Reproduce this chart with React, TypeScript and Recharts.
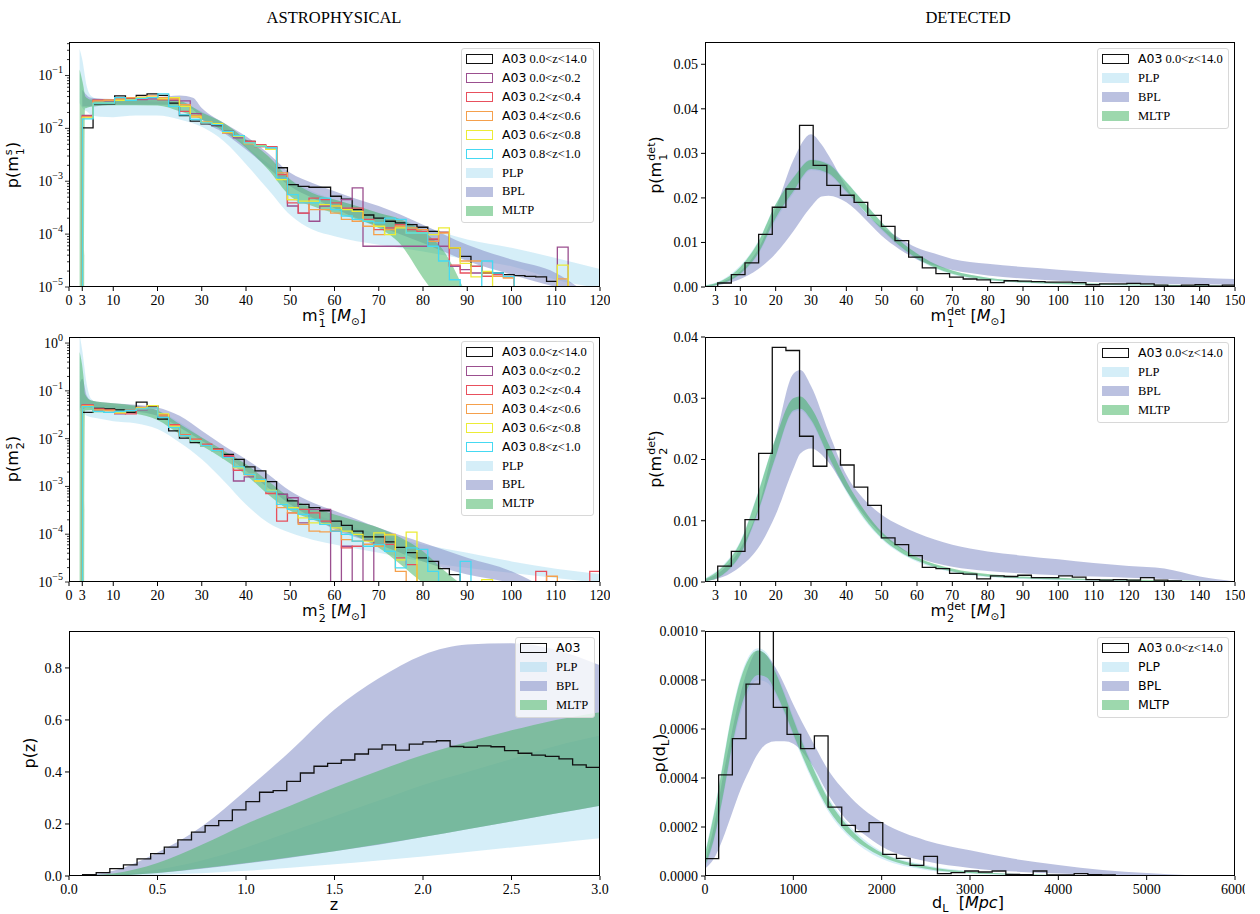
import React from "react";
import { Area, ComposedChart, Line, XAxis, YAxis } from "recharts";

const SERIF = '"Liberation Serif", "DejaVu Serif", serif';
const SANS = '"DejaVu Sans", "Liberation Sans", sans-serif';

// ---------- histogram binning ----------
const SRC_BIN_START = 3;
const SRC_BIN_WIDTH = 2.44;
const DET_BIN_START = 3.6;
const DET_BIN_WIDTH = 3.86;
const Z_BIN_START = 0;
const Z_BIN_WIDTH = 0.0769;
const DL_BIN_START = 0;
const DL_BIN_WIDTH = 154.8;
const OFF = 1e-7; // empty bin on a log axis (drawn below the frame)

const zRanges = ["0.0<z<14.0", "0.0<z<0.2", "0.2<z<0.4", "0.4<z<0.6", "0.6<z<0.8", "0.8<z<1.0"];
const histColors = ["#111111", "#9b4f8f", "#e8505d", "#f5a04c", "#ecec36", "#45d9f2"];

// ---------- m1 source frame histograms ----------
const m1SrcAll = [0.0102, 0.029, 0.029, 0.041, 0.036, 0.042, 0.045, 0.042, 0.03, 0.0175, 0.0137, 0.0122, 0.0113, 0.0088, 0.0071, 0.0057, 0.0047, 0.0045, 0.0018, 0.00086, 0.0008, 0.00077, 0.00077, 0.00052, 0.00046, 0.00029, 0.00023, 0.0002, 0.000175, 0.000163, 0.000151, 0.000135, 0.000113, 0.000108, 0.000055, 0.000038, 0.0000246, 0.0000184, 0.0000184, 0.0000171, 0.0000164, 0.0000159, 0.0000155, 0.0000128, 0.0000098];
const m1SrcZ0002 = [0.0175, 0.034, 0.033, 0.036, 0.035, 0.035, 0.036, 0.035, 0.034, 0.033, 0.019, 0.0127, 0.0118, 0.0082, 0.0066, 0.0053, 0.0045, 0.0043, 0.00116, 0.00034, 0.00025, 0.000175, 0.00034, 0.00034, 0.00045, 0.00075, 0.000059, 0.000059, 0.000059, 0.000059, 0.000059, 0.000059, 0.000079, 0.000059, 0.0000246, 0.0000213, 0.0000184, 0.0000159, 0.0000159, 0.0000155, OFF, OFF, OFF, OFF, 0.000057];
const m1SrcZ0204 = [0.017, 0.034, 0.034, 0.035, 0.036, 0.036, 0.038, 0.035, 0.036, 0.021, 0.0165, 0.0131, 0.0118, 0.0088, 0.0071, 0.0057, 0.0049, 0.0045, 0.00134, 0.00039, 0.00025, 0.00048, 0.00045, 0.00039, 0.00031, 0.00031, 0.00019, 0.000122, 0.000131, 0.000151, 0.000122, 0.000113, 0.000081, 0.000108, 0.000026, 0.0000184, 0.0000246, 0.0000159, 0.0000171, 0.0000159];
const m1SrcZ0406 = [0.0165, 0.033, 0.034, 0.036, 0.038, 0.039, 0.041, 0.038, 0.036, 0.028, 0.0175, 0.0127, 0.0123, 0.0082, 0.0071, 0.0051, 0.0045, 0.004, 0.00144, 0.00045, 0.00039, 0.00029, 0.00029, 0.00025, 0.00019, 0.000175, 0.000141, 0.000098, 0.000122, 0.000141, 0.000131, 0.000122, 0.000073, 0.000105, 0.000055, 0.000031, 0.000031, 0.0000184, 0.0000159, 0.0000148, OFF, OFF, OFF, OFF, 0.0000142];
const m1SrcZ0608 = [0.0158, 0.03, 0.03, 0.034, 0.035, 0.038, 0.039, 0.036, 0.038, 0.026, 0.0165, 0.0131, 0.0123, 0.0085, 0.0071, 0.0053, 0.0047, 0.004, 0.00108, 0.00045, 0.00042, 0.00042, 0.00036, 0.00034, 0.00029, 0.00027, 0.000175, 0.000141, 0.000098, 0.000131, 0.000105, 0.000105, 0.000098, 0.000131, 0.000055, 0.000028, 0.0000155, 0.0000198, OFF, OFF, OFF, OFF, OFF, OFF, 0.000026];
const m1SrcZ0810 = [0.0151, 0.03, 0.03, 0.038, 0.034, 0.037, 0.038, 0.045, 0.026, 0.018, 0.0147, 0.0127, 0.0118, 0.0088, 0.0073, 0.0053, 0.0046, 0.0043, 0.00116, 0.00056, 0.00039, 0.00039, 0.00048, 0.00029, 0.00022, 0.00019, 0.000175, 0.000163, 0.0002, 0.00019, 0.000105, 0.000105, 0.000059, 0.000031, 0.0000137, OFF, OFF, 0.000031, 0.0000184, 0.0000159];

// ---------- m2 source frame histograms ----------
const m2SrcAll = [0.0355, 0.043, 0.042, 0.04, 0.0355, 0.058, 0.047, 0.0257, 0.0146, 0.0103, 0.0083, 0.0071, 0.006, 0.0047, 0.0037, 0.00256, 0.00211, 0.00126, 0.00068, 0.0005, 0.00042, 0.00036, 0.00031, 0.000188, 0.000153, 0.000116, 0.000088, 0.000088, 0.000069, 0.000053, 0.000041, 0.000032, 0.000027, 0.000019, 0.0000143];
const m2SrcZ0002 = [0.051, 0.039, 0.0355, 0.033, 0.04, 0.04, 0.049, 0.03, 0.0172, 0.0115, 0.0093, 0.0071, 0.0056, 0.0042, 0.0013, 0.00158, 0.0013, 0.00078, 0.00068, 0.00058, 0.000173, 0.00033, 0.00033, OFF, 0.000056, OFF, 0.000074];
const m2SrcZ0204 = [0.051, 0.042, 0.04, 0.0355, 0.033, 0.045, 0.045, 0.0317, 0.0196, 0.0121, 0.0098, 0.0077, 0.006, 0.0044, 0.00218, 0.0018, 0.00141, 0.00071, 0.000188, 0.00028, 0.00033, 0.00028, 0.000188, 0.000116, 0.000052, 0.000056, 0.000061, 0.000061, 0.000061, 0.000032, 0.000023, OFF, OFF, OFF, OFF, OFF, OFF, OFF, OFF, OFF, OFF, OFF, 0.0000167, OFF, OFF, OFF, OFF, 0.0000167];
const m2SrcZ0406 = [0.049, 0.04, 0.039, 0.034, 0.039, 0.042, 0.044, 0.03, 0.0186, 0.0119, 0.0093, 0.0071, 0.0057, 0.004, 0.00248, 0.00174, 0.0013, 0.00078, 0.00036, 0.00028, 0.00016, 0.000116, 0.000112, 0.00012, 0.000077, 0.000072, 0.000061, 0.000056, 0.000099, 0.0000167, OFF, OFF, OFF, OFF, OFF, OFF, OFF, OFF, OFF, OFF, OFF, OFF, OFF, 0.0000132];
const m2SrcZ0608 = [0.047, 0.037, 0.0355, 0.0355, 0.039, 0.044, 0.049, 0.033, 0.0178, 0.0115, 0.009, 0.0071, 0.0056, 0.004, 0.00248, 0.0018, 0.0013, 0.00083, 0.00042, 0.00036, 0.00022, 0.000173, 0.000165, 0.000136, 0.000116, 0.000099, 0.000072, 0.000107, 0.000097, 0.000029, 0.000111, OFF, OFF, OFF, OFF, OFF, OFF, 0.0000112];
const m2SrcZ0810 = [0.047, 0.037, 0.0355, 0.037, 0.039, 0.042, 0.044, 0.0279, 0.0172, 0.0115, 0.009, 0.0071, 0.0056, 0.004, 0.00256, 0.0018, 0.00141, 0.0008, 0.00042, 0.00033, 0.00026, 0.000204, 0.00016, 0.000116, 0.000099, 0.000072, 0.000056, 0.000061, 0.000044, 0.0000197, 0.000052, 0.000048, 0.0000167, OFF, OFF, 0.000027];

// ---------- detector frame / z / dL histograms ----------
const m1DetAll = [0.0009, 0.0028, 0.0054, 0.0118, 0.0179, 0.022, 0.0363, 0.0273, 0.0228, 0.0206, 0.019, 0.0161, 0.0136, 0.0104, 0.0067, 0.0043, 0.003, 0.0022, 0.0018, 0.0016, 0.001, 0.0014, 0.0013, 0.0012, 0.0011, 0.0011, 0.001, 0.0005, 0.0007, 0.0007, 0.0008, 0.0007, 0.0004, 0.0002, 0.0004, 0.0005, 0.0002, 0.0004];
const m2DetAll = [0.0026, 0.005, 0.0102, 0.021, 0.0383, 0.0378, 0.0238, 0.0189, 0.0216, 0.0191, 0.0155, 0.0125, 0.0072, 0.0061, 0.0043, 0.0024, 0.0022, 0.0014, 0.0013, 0.0005, 0.001, 0.0009, 0.0011, 0.0007, 0.0007, 0.001, 0.0008, 0.0004, 0.0003, 0.0004, 0.0003, 0.0007, 0.0003, 0.0002];
const zAll = [0.001, 0.005, 0.013, 0.028, 0.043, 0.066, 0.086, 0.111, 0.139, 0.169, 0.194, 0.213, 0.254, 0.286, 0.322, 0.328, 0.364, 0.396, 0.422, 0.433, 0.446, 0.469, 0.488, 0.504, 0.484, 0.507, 0.516, 0.52, 0.498, 0.495, 0.5, 0.497, 0.482, 0.472, 0.465, 0.46, 0.45, 0.427, 0.418];
const dlAll = [0.0000708, 0.000413, 0.000561, 0.000783, 0.001, 0.000688, 0.000578, 0.00052, 0.000572, 0.000281, 0.000207, 0.000181, 0.000218, 0.0000886, 0.0000722, 0.0000436, 0.0000804, 0.0000095, 0.0000136, 0.0000204, 0.0000163, 0.0000204, 0.0000068, 0.0000054, 0.0000204, 0.0000041, 0.0000041, 0.0000095, 0.0000054, 0.0000041];

// ---------- model bands: m1 source ----------
const plpM1X = [2.4, 3, 4, 5, 7, 10, 15, 20, 25, 30, 35, 40, 45, 50, 55, 60, 65, 70, 80, 90, 100, 110, 120];
const plpM1Lo = [0.03, 0.0244, 0.021, 0.018, 0.0165, 0.0163, 0.0175, 0.0175, 0.0147, 0.0107, 0.0057, 0.0021, 0.0007, 0.00023, 0.000122, 0.000091, 0.000073, 0.000063, 0.000047, 0.000033, 0.0000246, 0.0000137, 0.0000095];
const plpM1Hi = [0.32, 0.2, 0.063, 0.041, 0.035, 0.034, 0.033, 0.032, 0.03, 0.021, 0.0118, 0.0046, 0.0022, 0.00108, 0.00065, 0.00045, 0.00034, 0.00025, 0.000141, 0.000079, 0.000055, 0.0000354, 0.0000219];
const bplM1X = [3, 5, 10, 20, 25, 28, 30, 35, 40, 45, 50, 55, 60, 65, 70, 80, 90, 100, 110, 115];
const bplM1Lo = [0.026, 0.026, 0.028, 0.028, 0.028, 0.0227, 0.0147, 0.0082, 0.004, 0.0018, 0.0008, 0.00048, 0.00031, 0.0002, 0.000141, 0.000068, 0.000031, 0.0000171, 0.00001, 0.0000077];
const bplM1Hi = [0.054, 0.038, 0.036, 0.039, 0.042, 0.038, 0.0244, 0.0127, 0.0071, 0.0034, 0.00144, 0.00093, 0.00065, 0.00046, 0.00034, 0.000151, 0.000063, 0.000033, 0.0000184, 0.00001];
const mltpM1X = [2.4, 3.3, 3.6, 4, 5, 10, 20, 25, 30, 35, 40, 45, 50, 55, 60, 65, 70, 75, 80, 85, 89];
const mltpM1Lo = [OFF, OFF, 0.024, 0.0244, 0.026, 0.0275, 0.027, 0.021, 0.0147, 0.0088, 0.0043, 0.00166, 0.00052, 0.00034, 0.00025, 0.00019, 0.000131, 0.000063, 0.0000148, 0.0000043, 0.0000021];
const mltpM1Hi = [0.13, 0.06, 0.042, 0.038, 0.035, 0.035, 0.035, 0.033, 0.02, 0.0127, 0.0062, 0.003, 0.00108, 0.0006, 0.00045, 0.00034, 0.00025, 0.00019, 0.000113, 0.000044, 0.00001];

// ---------- model bands: m2 source ----------
const plpM2X = [2.4, 3, 4, 5, 7, 10, 15, 20, 25, 30, 35, 40, 45, 50, 55, 60, 70, 80, 90, 100, 110, 120];
const plpM2Lo = [0.039, 0.0355, 0.03, 0.028, 0.026, 0.023, 0.021, 0.0159, 0.0083, 0.0037, 0.0013, 0.00042, 0.000173, 0.000107, 0.000077, 0.000061, 0.000041, 0.000027, 0.0000197, 0.0000155, 0.0000121, 0.0000095];
const plpM2Hi = [1.5, 0.7, 0.14, 0.068, 0.053, 0.049, 0.047, 0.039, 0.022, 0.0106, 0.0047, 0.0021, 0.00102, 0.0005, 0.00028, 0.000188, 0.000099, 0.000061, 0.000041, 0.000027, 0.000019, 0.0000147];
const bplM2X = [2.5, 3, 4, 5, 10, 15, 20, 25, 30, 35, 40, 45, 50, 55, 60, 70, 80, 90, 100, 105];
const bplM2Lo = [0.045, 0.042, 0.045, 0.044, 0.04, 0.037, 0.03, 0.0172, 0.009, 0.0047, 0.0021, 0.00094, 0.00042, 0.00022, 0.000126, 0.000061, 0.000027, 0.0000143, 0.0000095, 0.000007];
const bplM2Hi = [0.15, 0.18, 0.08, 0.063, 0.055, 0.051, 0.045, 0.03, 0.0146, 0.0071, 0.0037, 0.0018, 0.0008, 0.00046, 0.00031, 0.000136, 0.000066, 0.000032, 0.0000167, 0.00001];
const mltpM2X = [2.4, 3.3, 3.6, 5, 10, 15, 20, 25, 30, 35, 40, 45, 50, 55, 60, 65, 70, 75, 80, 85, 88];
const mltpM2Lo = [OFF, OFF, 0.039, 0.04, 0.037, 0.033, 0.0245, 0.0125, 0.0071, 0.0037, 0.00174, 0.00068, 0.00031, 0.000204, 0.000136, 0.000091, 0.000052, 0.000023, 0.0000095, 0.0000045, 0.000002];
const mltpM2Hi = [0.65, 0.19, 0.086, 0.063, 0.055, 0.049, 0.039, 0.0202, 0.0106, 0.0056, 0.0029, 0.0013, 0.00058, 0.00036, 0.00026, 0.000188, 0.000136, 0.000084, 0.000044, 0.0000167, 0.00001];

// ---------- model bands: m1 detector ----------
const detM1X = [0, 5, 10, 15, 20, 25, 30, 35, 40, 45, 50, 55, 60, 65, 70, 80, 90, 100, 110, 120, 130, 140, 150];
const plpDetM1Lo = [0.0001, 0.0007, 0.0028, 0.0072, 0.015, 0.021, 0.0262, 0.0252, 0.0212, 0.0168, 0.0127, 0.009, 0.0062, 0.0042, 0.0028, 0.0015, 0.0009, 0.0006, 0.0004, 0.0003, 0.0002, 0.0002, 0.0001];
const plpDetM1Hi = [0.0004, 0.0017, 0.0048, 0.0102, 0.0187, 0.0247, 0.0287, 0.0278, 0.0237, 0.0191, 0.0146, 0.0106, 0.0075, 0.0052, 0.0037, 0.0021, 0.0014, 0.001, 0.0008, 0.0006, 0.0005, 0.0004, 0.0003];
const mltpDetM1Lo = [0.0001, 0.0008, 0.003, 0.0075, 0.0155, 0.0215, 0.0265, 0.0255, 0.0215, 0.0172, 0.013, 0.0093, 0.0064, 0.0044, 0.003, 0.0016, 0.001, 0.0007, 0.0005, 0.0004, 0.0003, 0.0002, 0.0001];
const mltpDetM1Hi = [0.0003, 0.0015, 0.0045, 0.01, 0.0185, 0.0245, 0.0285, 0.0275, 0.0235, 0.019, 0.0145, 0.0105, 0.0075, 0.0052, 0.0037, 0.0021, 0.0014, 0.001, 0.0008, 0.0006, 0.0005, 0.0004, 0.0003];
const bplDetM1X = [0, 5, 10, 15, 20, 25, 30, 33, 35, 40, 45, 50, 55, 60, 65, 70, 80, 90, 100, 110, 120, 130, 140, 150];
const bplDetM1Lo = [0.0001, 0.0006, 0.0018, 0.004, 0.0075, 0.0125, 0.018, 0.0203, 0.0205, 0.019, 0.0155, 0.0115, 0.0085, 0.0062, 0.0048, 0.0038, 0.0026, 0.0019, 0.0014, 0.0011, 0.0009, 0.0007, 0.0006, 0.0005];
const bplDetM1Hi = [0.0002, 0.0012, 0.0035, 0.0085, 0.0175, 0.0285, 0.0343, 0.032, 0.0295, 0.0225, 0.017, 0.0135, 0.011, 0.0088, 0.0075, 0.0063, 0.0052, 0.0045, 0.0039, 0.0033, 0.0028, 0.0024, 0.0021, 0.0018];

// ---------- model bands: m2 detector ----------
const detM2X = [0, 5, 10, 15, 20, 25, 27, 30, 35, 40, 45, 50, 55, 60, 70, 80, 90, 100, 110, 120, 130, 140, 150];
const plpDetM2Lo = [0.0001, 0.0011, 0.0043, 0.0112, 0.0202, 0.0277, 0.028, 0.0262, 0.0202, 0.0147, 0.0102, 0.007, 0.0048, 0.0033, 0.0016, 0.0008, 0.0005, 0.0003, 0.0002, 0.0001, 0.0001, 0, 0];
const plpDetM2Hi = [0.0006, 0.0027, 0.0067, 0.0147, 0.0236, 0.03, 0.0302, 0.0285, 0.0225, 0.0165, 0.0117, 0.0081, 0.0057, 0.004, 0.0021, 0.0012, 0.0008, 0.0006, 0.0004, 0.0003, 0.0002, 0.0002, 0.0001];
const bplDetM2Lo = [0.0001, 0.0008, 0.0025, 0.0055, 0.011, 0.0185, 0.021, 0.0218, 0.0195, 0.015, 0.011, 0.0078, 0.0056, 0.0041, 0.0025, 0.0018, 0.0014, 0.0011, 0.0009, 0.0007, 0.0005, 0.0002, 0];
const bplDetM2Hi = [0.0004, 0.002, 0.0055, 0.012, 0.0235, 0.034, 0.0346, 0.032, 0.0245, 0.0175, 0.0135, 0.011, 0.0093, 0.008, 0.0061, 0.005, 0.0043, 0.0037, 0.0031, 0.0026, 0.0022, 0.0009, 0.0001];
const mltpDetM2Lo = [0.0001, 0.0012, 0.0045, 0.0115, 0.0205, 0.028, 0.0283, 0.0265, 0.0205, 0.015, 0.0105, 0.0072, 0.005, 0.0035, 0.0017, 0.0009, 0.0006, 0.0004, 0.0003, 0.0002, 0.0001, 0.0001, 0];
const mltpDetM2Hi = [0.0005, 0.0025, 0.0065, 0.0145, 0.0235, 0.03, 0.0303, 0.0285, 0.0225, 0.0165, 0.0118, 0.0082, 0.0058, 0.0041, 0.0022, 0.0013, 0.0009, 0.0007, 0.0005, 0.0004, 0.0003, 0.0002, 0.0001];

// ---------- model bands: redshift ----------
const zX = [0, 0.25, 0.5, 0.75, 1, 1.25, 1.5, 1.75, 2, 2.25, 2.5, 2.75, 3];
const plpZLo = [0, 0.001, 0.005, 0.011, 0.02, 0.032, 0.045, 0.06, 0.075, 0.092, 0.11, 0.127, 0.145];
const plpZHi = [0, 0.004, 0.025, 0.06, 0.11, 0.17, 0.23, 0.29, 0.35, 0.4, 0.45, 0.5, 0.54];
const bplZLo = [0, 0.002, 0.012, 0.028, 0.048, 0.07, 0.095, 0.12, 0.15, 0.18, 0.21, 0.24, 0.27];
const bplZHi = [0, 0.02, 0.09, 0.19, 0.33, 0.48, 0.64, 0.76, 0.85, 0.89, 0.895, 0.87, 0.81];
const mltpZLo = [0, 0.002, 0.012, 0.03, 0.05, 0.072, 0.095, 0.122, 0.15, 0.18, 0.21, 0.24, 0.27];
const mltpZHi = [0, 0.01, 0.05, 0.12, 0.2, 0.27, 0.34, 0.405, 0.465, 0.515, 0.56, 0.6, 0.63];

// ---------- model bands: luminosity distance ----------
const dlX = [0, 100, 200, 300, 400, 500, 600, 700, 800, 900, 1000, 1200, 1400, 1600, 1800, 2000, 2500, 3000, 3500, 4000, 4500, 5000, 5500, 6000];
const plpDlLo = [0.00003, 0.00014, 0.00031, 0.0005, 0.00066, 0.00076, 0.0008, 0.00079, 0.00074, 0.00066, 0.00057, 0.0004, 0.00026, 0.00017, 0.00011, 0.00007, 0.000025, 0.00001, 0.000004, 0.000002, 0, 0, 0, 0];
const plpDlHi = [0.0001, 0.00026, 0.00046, 0.00066, 0.00081, 0.0009, 0.00093, 0.00091, 0.00084, 0.00075, 0.00065, 0.00047, 0.00032, 0.00022, 0.00015, 0.0001, 0.000045, 0.00002, 0.000009, 0.000004, 0.000002, 0.000001, 0, 0];
const bplDlLo = [0.00003, 0.00007, 0.00015, 0.00025, 0.00035, 0.00043, 0.0005, 0.00054, 0.00055, 0.00055, 0.00054, 0.00046, 0.00033, 0.00023, 0.00017, 0.00012, 0.00006, 0.000033, 0.000018, 0.00001, 0.000005, 0.000002, 0, 0];
const bplDlHi = [0.00006, 0.0002, 0.0004, 0.00058, 0.00074, 0.00086, 0.00092, 0.0009, 0.00085, 0.00078, 0.0007, 0.00056, 0.00043, 0.00034, 0.00027, 0.00022, 0.000145, 0.000105, 0.00007, 0.000045, 0.000025, 0.000012, 0.000003, 0];
const mltpDlLo = [0.00004, 0.00015, 0.00032, 0.00052, 0.00068, 0.00078, 0.00082, 0.00081, 0.00075, 0.00067, 0.00058, 0.00041, 0.00027, 0.00018, 0.00012, 0.00008, 0.00003, 0.000012, 0.000005, 0.000002, 0.000001, 0, 0, 0];
const mltpDlHi = [0.00009, 0.00025, 0.00045, 0.00065, 0.0008, 0.00089, 0.00092, 0.0009, 0.00083, 0.00074, 0.00064, 0.00046, 0.00031, 0.00021, 0.00014, 0.000095, 0.00004, 0.000018, 0.000008, 0.000004, 0.000002, 0.000001, 0, 0];

// ---------- ticks ----------
const srcMassTicks = [0, 3, 10, 20, 30, 40, 50, 60, 70, 80, 90, 100, 110, 120];
const detMassTicks = [3, 10, 20, 30, 40, 50, 60, 70, 80, 90, 100, 110, 120, 130, 140, 150];
const zTicks = [0, 0.5, 1, 1.5, 2, 2.5, 3];
const dlTicks = [0, 1000, 2000, 3000, 4000, 5000, 6000];
const logDecades = [1e-5, 1e-4, 1e-3, 1e-2, 1e-1, 1];
const detM1YTicks = [0, 0.01, 0.02, 0.03, 0.04, 0.05];
const detM2YTicks = [0, 0.01, 0.02, 0.03, 0.04];
const zYTicks = [0, 0.2, 0.4, 0.6, 0.8];
const dlYTicks = [0, 0.0002, 0.0004, 0.0006, 0.0008, 0.001];

// ---------- styling ----------
const PLP = { fill: "#87ceeb", opacity: 0.35, patch: "rgba(135,206,235,0.35)" };
const BPL = { fill: "#8d97cc", opacity: 0.6, patch: "rgba(141,151,204,0.6)" };
const MLTP = { fill: "#4cb86a", opacity: 0.55, patch: "rgba(76,184,106,0.55)" };
const PLOT_H = 245;
const CHART_H = 285;

type Row = { x: number; [key: string]: any };

function stepPoints(start: number, width: number, values: number[], floor: number, closeEnd = true) {
  const pts: [number, number][] = [[start - 1e-4, floor]];
  values.forEach((v, i) => pts.push([start + i * width, v]));
  const end = start + values.length * width;
  pts.push([end, values[values.length - 1]]);
  if (closeEnd) pts.push([end + 1e-4, floor]);
  return pts;
}

function buildRows(
  lines: Record<string, [number, number][]>,
  bands: Record<string, { x: number[]; lo: number[]; hi: number[] }>
): Row[] {
  const rows = new Map<number, Row>();
  const row = (x: number) => {
    const k = Math.round(x * 1e6) / 1e6;
    let r = rows.get(k);
    if (!r) {
      r = { x: k };
      rows.set(k, r);
    }
    return r;
  };
  Object.entries(lines).forEach(([key, pts]) => pts.forEach(([x, v]) => (row(x)[key] = v)));
  Object.entries(bands).forEach(([key, b]) => b.x.forEach((x, i) => (row(x)[key] = [b.lo[i], b.hi[i]])));
  return [...rows.values()].sort((a, b) => a.x - b.x);
}

const srcHistKeys = ["all", "z1", "z2", "z3", "z4", "z5"];

const rowsM1Src = buildRows(
  Object.fromEntries(
    [m1SrcAll, m1SrcZ0002, m1SrcZ0204, m1SrcZ0406, m1SrcZ0608, m1SrcZ0810].map((v, i) => [
      srcHistKeys[i],
      stepPoints(SRC_BIN_START, SRC_BIN_WIDTH, v, OFF),
    ])
  ),
  {
    plp: { x: plpM1X, lo: plpM1Lo, hi: plpM1Hi },
    bpl: { x: bplM1X, lo: bplM1Lo, hi: bplM1Hi },
    mltp: { x: mltpM1X, lo: mltpM1Lo, hi: mltpM1Hi },
  }
);

const rowsM2Src = buildRows(
  Object.fromEntries(
    [m2SrcAll, m2SrcZ0002, m2SrcZ0204, m2SrcZ0406, m2SrcZ0608, m2SrcZ0810].map((v, i) => [
      srcHistKeys[i],
      stepPoints(SRC_BIN_START, SRC_BIN_WIDTH, v, OFF),
    ])
  ),
  {
    plp: { x: plpM2X, lo: plpM2Lo, hi: plpM2Hi },
    bpl: { x: bplM2X, lo: bplM2Lo, hi: bplM2Hi },
    mltp: { x: mltpM2X, lo: mltpM2Lo, hi: mltpM2Hi },
  }
);

const rowsM1Det = buildRows(
  { all: stepPoints(DET_BIN_START, DET_BIN_WIDTH, m1DetAll, 0) },
  {
    plp: { x: detM1X, lo: plpDetM1Lo, hi: plpDetM1Hi },
    bpl: { x: bplDetM1X, lo: bplDetM1Lo, hi: bplDetM1Hi },
    mltp: { x: detM1X, lo: mltpDetM1Lo, hi: mltpDetM1Hi },
  }
);

const rowsM2Det = buildRows(
  { all: stepPoints(DET_BIN_START, DET_BIN_WIDTH, m2DetAll, 0) },
  {
    plp: { x: detM2X, lo: plpDetM2Lo, hi: plpDetM2Hi },
    bpl: { x: detM2X, lo: bplDetM2Lo, hi: bplDetM2Hi },
    mltp: { x: detM2X, lo: mltpDetM2Lo, hi: mltpDetM2Hi },
  }
);

const rowsZ = buildRows(
  { all: stepPoints(Z_BIN_START, Z_BIN_WIDTH, zAll, 0, false) },
  {
    plp: { x: zX, lo: plpZLo, hi: plpZHi },
    bpl: { x: zX, lo: bplZLo, hi: bplZHi },
    mltp: { x: zX, lo: mltpZLo, hi: mltpZHi },
  }
);

const rowsDl = buildRows(
  { all: stepPoints(DL_BIN_START, DL_BIN_WIDTH, dlAll, 0) },
  {
    plp: { x: dlX, lo: plpDlLo, hi: plpDlHi },
    bpl: { x: dlX, lo: bplDlLo, hi: bplDlHi },
    mltp: { x: dlX, lo: mltpDlLo, hi: mltpDlHi },
  }
);

function logTicks(min: number, max: number) {
  const out: number[] = [];
  logDecades.forEach((d) => {
    for (let m = 1; m < 10; m++) {
      const v = d * m;
      if (v >= min * 0.999 && v <= max) out.push(v);
    }
  });
  return out;
}

function LogTick(props: any) {
  const { x, y, payload } = props;
  const lg = Math.log10(payload.value);
  const e = Math.round(lg);
  const major = Math.abs(lg - e) < 1e-6;
  return (
    <g>
      <line x1={major ? x + 3 : x + 5} x2={x + 7} y1={y} y2={y} stroke="#000" strokeWidth={0.8} />
      {major && (
        <text x={x + 1} y={y + 5} textAnchor="end" fontFamily={SERIF} fontSize={14} fill="#000">
          10
          <tspan dy={-7} fontSize={10}>
            {e < 0 ? `\u2212${-e}` : `${e}`}
          </tspan>
        </text>
      )}
    </g>
  );
}

type PanelProps = {
  left: number;
  plotTop: number;
  width: number;
  yWidth: number;
  rows: Row[];
  xDomain: [number, number];
  xTicks: number[];
  xFmt?: (v: number) => string;
  yDomain: [number, number];
  yTicks: number[];
  yFmt?: (v: number) => string;
  yLog?: boolean;
  hists: { key: string; color: string }[];
  histOnTop?: boolean;
};

function Panel(p: PanelProps) {
  const tickStyle = { fontFamily: SERIF, fontSize: 14, fill: "#000" };
  const areas = [
    { key: "plp", ...PLP },
    { key: "bpl", ...BPL },
    { key: "mltp", ...MLTP },
  ].map((b) => (
    <Area
      key={b.key}
      dataKey={b.key}
      type="monotone"
      stroke="none"
      fill={b.fill}
      fillOpacity={b.opacity}
      connectNulls
      dot={false}
      activeDot={false}
      isAnimationActive={false}
    />
  ));
  const lines = p.hists.map((h) => (
    <Line
      key={h.key}
      dataKey={h.key}
      type="stepAfter"
      stroke={h.color}
      strokeWidth={1.3}
      dot={false}
      activeDot={false}
      connectNulls
      isAnimationActive={false}
    />
  ));
  const plotW = p.width - p.yWidth - 10;
  return (
    <>
      <div style={{ position: "absolute", left: p.left, top: p.plotTop - 10 }}>
        <ComposedChart
          width={p.width}
          height={CHART_H}
          data={p.rows}
          margin={{ top: 10, right: 10, bottom: 0, left: 0 }}
        >
          <XAxis
            dataKey="x"
            type="number"
            domain={p.xDomain}
            ticks={p.xTicks}
            interval={0}
            allowDataOverflow
            tickFormatter={p.xFmt}
            tick={tickStyle}
            tickLine={{ stroke: "#000" }}
            tickSize={4}
            tickMargin={4}
            axisLine={false}
            height={30}
          />
          {p.yLog ? (
            <YAxis
              type="number"
              scale="log"
              domain={p.yDomain}
              ticks={p.yTicks}
              interval={0}
              allowDataOverflow
              width={p.yWidth}
              tick={(tp: any) => <LogTick {...tp} />}
              tickLine={false}
              tickSize={4}
              tickMargin={3}
              axisLine={false}
            />
          ) : (
            <YAxis
              type="number"
              domain={p.yDomain}
              ticks={p.yTicks}
              interval={0}
              allowDataOverflow
              width={p.yWidth}
              tickFormatter={p.yFmt}
              tick={tickStyle}
              tickLine={{ stroke: "#000" }}
              tickSize={4}
              tickMargin={3}
              axisLine={false}
            />
          )}
          {p.histOnTop ? [...areas, ...lines] : [...lines, ...areas]}
        </ComposedChart>
      </div>
      <div
        style={{
          position: "absolute",
          left: p.left + p.yWidth,
          top: p.plotTop,
          width: plotW,
          height: PLOT_H,
          boxSizing: "border-box",
          border: "1px solid #000",
          pointerEvents: "none",
        }}
      />
    </>
  );
}

type LegendItem = { hist?: string; band?: string; label: React.ReactNode };

function LegendBox({ left, top, width, items }: { left: number; top: number; width: number; items: LegendItem[] }) {
  return (
    <div
      style={{
        position: "absolute",
        left,
        top,
        width,
        boxSizing: "border-box",
        border: "1px solid #d8d8d8",
        borderRadius: 3,
        background: "rgba(255,255,255,0.8)",
        padding: "1px 0 2px 4px",
      }}
    >
      {items.map((it, i) => (
        <div key={i} style={{ height: 18.9, display: "flex", alignItems: "center" }}>
          <span
            style={{
              width: 27,
              height: 10,
              boxSizing: "border-box",
              border: it.hist ? `1.3px solid ${it.hist}` : "none",
              background: it.band ?? "transparent",
              marginRight: 9,
              flex: "none",
            }}
          />
          <span style={{ fontSize: 12.5, whiteSpace: "nowrap", lineHeight: 1 }}>{it.label}</span>
        </div>
      ))}
    </div>
  );
}

const a03 = (range?: string) => (
  <>
    <span style={{ fontFamily: SANS }}>A03</span>
    {range && <span style={{ fontFamily: SERIF }}> {range}</span>}
  </>
);

const srcLegend: LegendItem[] = [
  ...zRanges.map((r, i) => ({ hist: histColors[i], label: a03(r) })),
  { band: PLP.patch, label: <span style={{ fontFamily: SERIF }}>PLP</span> },
  { band: BPL.patch, label: <span style={{ fontFamily: SERIF }}>BPL</span> },
  { band: MLTP.patch, label: <span style={{ fontFamily: SERIF }}>MLTP</span> },
];

const modelLegend = (first: React.ReactNode, font: string): LegendItem[] => [
  { hist: histColors[0], label: first },
  { band: PLP.patch, label: <span style={{ fontFamily: font }}>PLP</span> },
  { band: BPL.patch, label: <span style={{ fontFamily: font }}>BPL</span> },
  { band: MLTP.patch, label: <span style={{ fontFamily: font }}>MLTP</span> },
];

function Stack({ sup, sub }: { sup: string; sub: string }) {
  return (
    <span
      style={{
        display: "inline-flex",
        flexDirection: "column",
        fontSize: "0.7em",
        lineHeight: 1.05,
        verticalAlign: "0.5em",
        marginLeft: 1,
      }}
    >
      <span>{sup}</span>
      <span>{sub}</span>
    </span>
  );
}

const Msun = () => (
  <>
    [<i>M</i>
    <sub style={{ fontSize: "0.65em" }}>⊙</sub>]
  </>
);

function AxisTitle({ x, y, rotate, children }: { x: number; y: number; rotate?: boolean; children: React.ReactNode }) {
  return (
    <div
      style={{
        position: "absolute",
        left: x,
        top: y,
        transform: `translate(-50%, -50%)${rotate ? " rotate(-90deg)" : ""}`,
        fontFamily: SANS,
        fontSize: 16,
        whiteSpace: "nowrap",
        lineHeight: 1,
      }}
    >
      {children}
    </div>
  );
}

const srcHists = srcHistKeys.map((k, i) => ({ key: k, color: histColors[i] }));
const detHists = [{ key: "all", color: histColors[0] }];

export default function App() {
  const LEFT_W = 610;
  const RIGHT_X = 640;
  const RIGHT_W = 605;
  return (
    <div style={{ position: "absolute", left: 0, top: 0, width: 1260, height: 914, background: "#fff", color: "#000" }}>
      <div style={{ position: "absolute", left: 334, top: 18, transform: "translate(-50%, -50%)", fontFamily: SERIF, fontSize: 16.5 }}>
        ASTROPHYSICAL
      </div>
      <div style={{ position: "absolute", left: 968, top: 18, transform: "translate(-50%, -50%)", fontFamily: SERIF, fontSize: 16.5 }}>
        DETECTED
      </div>

      <Panel
        left={0}
        plotTop={42}
        width={LEFT_W}
        yWidth={69}
        rows={rowsM1Src}
        xDomain={[0, 120]}
        xTicks={srcMassTicks}
        yLog
        yDomain={[1e-5, 0.43]}
        yTicks={logTicks(1e-5, 0.43)}
        hists={srcHists}
      />
      <Panel
        left={RIGHT_X}
        plotTop={42}
        width={RIGHT_W}
        yWidth={65}
        rows={rowsM1Det}
        xDomain={[0, 150]}
        xTicks={detMassTicks}
        yDomain={[0, 0.055]}
        yTicks={detM1YTicks}
        yFmt={(v) => v.toFixed(2)}
        hists={detHists}
        histOnTop
      />
      <Panel
        left={0}
        plotTop={337}
        width={LEFT_W}
        yWidth={69}
        rows={rowsM2Src}
        xDomain={[0, 120]}
        xTicks={srcMassTicks}
        yLog
        yDomain={[1e-5, 1.34]}
        yTicks={logTicks(1e-5, 1.34)}
        hists={srcHists}
      />
      <Panel
        left={RIGHT_X}
        plotTop={337}
        width={RIGHT_W}
        yWidth={65}
        rows={rowsM2Det}
        xDomain={[0, 150]}
        xTicks={detMassTicks}
        yDomain={[0, 0.04]}
        yTicks={detM2YTicks}
        yFmt={(v) => v.toFixed(2)}
        hists={detHists}
        histOnTop
      />
      <Panel
        left={0}
        plotTop={631}
        width={LEFT_W}
        yWidth={69}
        rows={rowsZ}
        xDomain={[0, 3]}
        xTicks={zTicks}
        xFmt={(v) => v.toFixed(1)}
        yDomain={[0, 0.942]}
        yTicks={zYTicks}
        yFmt={(v) => v.toFixed(1)}
        hists={detHists}
        histOnTop
      />
      <Panel
        left={RIGHT_X}
        plotTop={631}
        width={RIGHT_W}
        yWidth={65}
        rows={rowsDl}
        xDomain={[0, 6000]}
        xTicks={dlTicks}
        yDomain={[0, 0.001]}
        yTicks={dlYTicks}
        yFmt={(v) => v.toFixed(4)}
        hists={detHists}
        histOnTop
      />

      <LegendBox left={461} top={48} width={133} items={srcLegend} />
      <LegendBox left={1097} top={48} width={132} items={modelLegend(a03(zRanges[0]), SERIF)} />
      <LegendBox left={461} top={341} width={133} items={srcLegend} />
      <LegendBox left={1097} top={342} width={132} items={modelLegend(a03(zRanges[0]), SERIF)} />
      <LegendBox left={515} top={637} width={80} items={modelLegend(a03(), SERIF)} />
      <LegendBox left={1097} top={637} width={132} items={modelLegend(a03(zRanges[0]), SANS)} />

      <AxisTitle x={334} y={318}>
        m<Stack sup="s" sub="1" /> <Msun />
      </AxisTitle>
      <AxisTitle x={968} y={318}>
        m<Stack sup="det" sub="1" /> <Msun />
      </AxisTitle>
      <AxisTitle x={334} y={613}>
        m<Stack sup="s" sub="2" /> <Msun />
      </AxisTitle>
      <AxisTitle x={968} y={613}>
        m<Stack sup="det" sub="2" /> <Msun />
      </AxisTitle>
      <AxisTitle x={334} y={905}>z</AxisTitle>
      <AxisTitle x={968} y={905}>
        d<sub style={{ fontSize: "0.7em" }}>L</sub>&nbsp;&nbsp;[<i>Mpc</i>]
      </AxisTitle>

      <AxisTitle x={15} y={165} rotate>
        p(m<Stack sup="s" sub="1" />)
      </AxisTitle>
      <AxisTitle x={658} y={165} rotate>
        p(m<Stack sup="det" sub="1" />)
      </AxisTitle>
      <AxisTitle x={15} y={459} rotate>
        p(m<Stack sup="s" sub="2" />)
      </AxisTitle>
      <AxisTitle x={658} y={459} rotate>
        p(m<Stack sup="det" sub="2" />)
      </AxisTitle>
      <AxisTitle x={30} y={753} rotate>
        p(z)
      </AxisTitle>
      <AxisTitle x={662} y={753} rotate>
        p(d<sub style={{ fontSize: "0.7em" }}>L</sub>)
      </AxisTitle>
    </div>
  );
}
